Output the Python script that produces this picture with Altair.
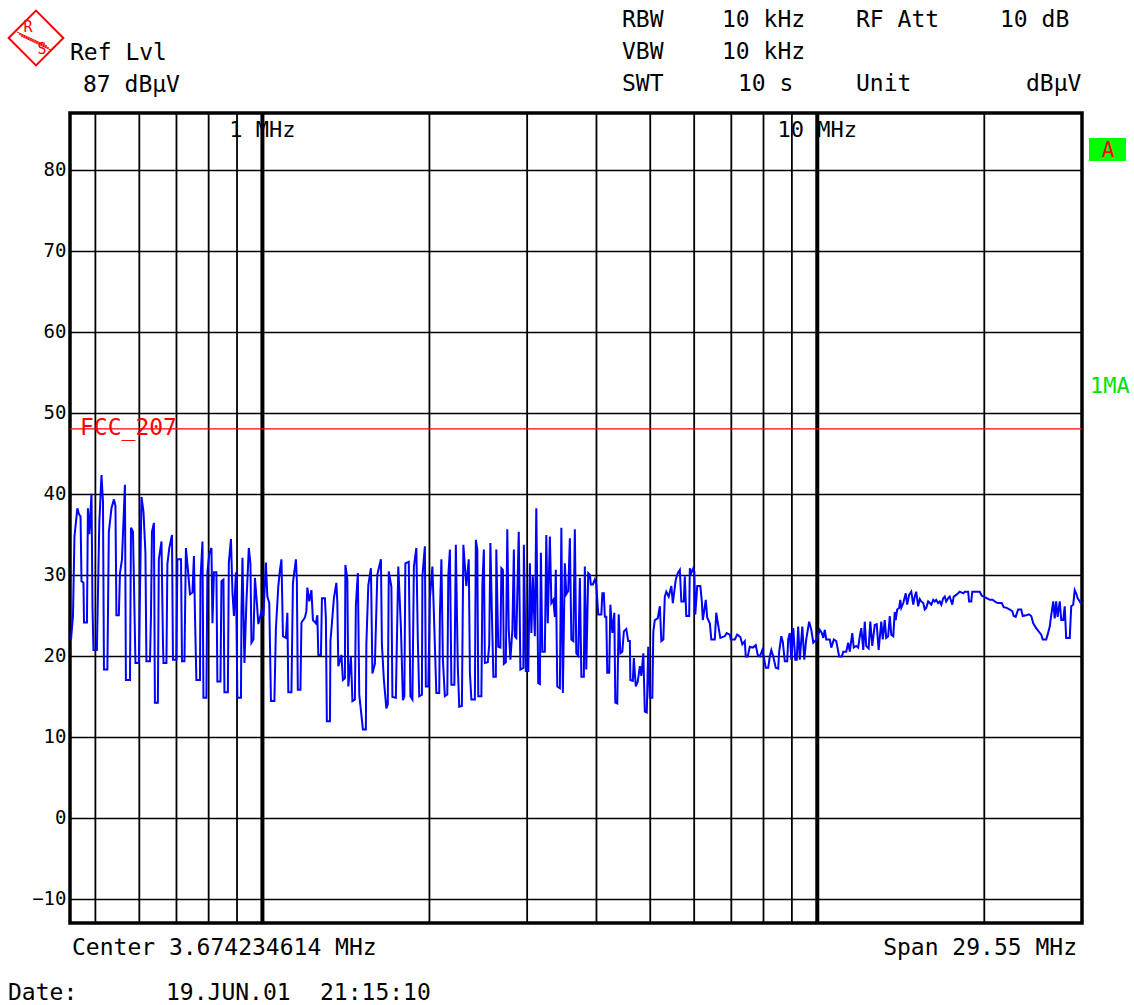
import altair as alt
import pandas as pd

# ---- trace (frequency in MHz, level in dBuV) ----
freq_mhz = [
    0.4519, 0.4556, 0.4584, 0.4640, 0.4669, 0.4701, 0.4720, 0.4759, 0.4769, 0.4828,
    0.4847, 0.4876, 0.4920, 0.4940, 0.4960, 0.5031, 0.5082, 0.5128, 0.5160, 0.5181,
    0.5255, 0.5287, 0.5345, 0.5400, 0.5434, 0.5456, 0.5511, 0.5537, 0.5583, 0.5652,
    0.5675, 0.5772, 0.5796, 0.5844, 0.5868, 0.5904, 0.5988, 0.6054, 0.6104, 0.6154,
    0.6179, 0.6271, 0.6297, 0.6323, 0.6375, 0.6401, 0.6480, 0.6506, 0.6578, 0.6619,
    0.6632, 0.6714, 0.6741, 0.6795, 0.6871, 0.6899, 0.6998, 0.7027, 0.7133, 0.7162,
    0.7236, 0.7251, 0.7280, 0.7339, 0.7403, 0.7480, 0.7526, 0.7557, 0.7603, 0.7717,
    0.7733, 0.7797, 0.7829, 0.7926, 0.7958, 0.8022, 0.8094, 0.8128, 0.8178, 0.8262,
    0.8295, 0.8402, 0.8437, 0.8507, 0.8542, 0.8664, 0.8699, 0.8776, 0.8831, 0.8885,
    0.8958, 0.9013, 0.9148, 0.9167, 0.9205, 0.9281, 0.9356, 0.9451, 0.9516, 0.9555,
    0.9634, 0.9694, 0.9773, 0.9832, 0.9960, 1.0042, 1.0145, 1.0207, 1.0289, 1.0360,
    1.0510, 1.0575, 1.0682, 1.0755, 1.0822, 1.0889, 1.1023, 1.1091, 1.1135, 1.1280,
    1.1350, 1.1490, 1.1536, 1.1583, 1.1709, 1.1758, 1.1928, 1.2001, 1.2050, 1.2147,
    1.2256, 1.2332, 1.2484, 1.2560, 1.2611, 1.2749, 1.2802, 1.2960, 1.3013, 1.3066,
    1.3234, 1.3262, 1.3317, 1.3454, 1.3592, 1.3647, 1.3702, 1.3880, 1.3966, 1.4081,
    1.4110, 1.4224, 1.4282, 1.4439, 1.4529, 1.4678, 1.4738, 1.4858, 1.4947, 1.5175,
    1.5362, 1.5393, 1.5518, 1.5688, 1.5785, 1.5948, 1.6110, 1.6352, 1.6419, 1.6555,
    1.6724, 1.6826, 1.6894, 1.7080, 1.7151, 1.7398, 1.7574, 1.7767, 1.7914, 1.8024,
    1.8098, 1.8355, 1.8481, 1.8635, 1.8750, 1.8942, 1.9057, 1.9172, 1.9384, 1.9424,
    1.9624, 1.9704, 1.9904, 2.0038, 2.0246, 2.0371, 2.0580, 2.0830, 2.0887, 2.1017,
    2.1148, 2.1321, 2.1539, 2.1626, 2.1772, 2.1908, 2.2180, 2.2315, 2.2497, 2.2632,
    2.2883, 2.3024, 2.3308, 2.3544, 2.3656, 2.3804, 2.4148, 2.4246, 2.4394, 2.4493,
    2.4812, 2.4915, 2.5068, 2.5171, 2.5479, 2.5633, 2.5755, 2.5916, 2.6076, 2.6344,
    2.6397, 2.6611, 2.6847, 2.6958, 2.7125, 2.7237, 2.7460, 2.7627, 2.7794, 2.7984,
    2.8216, 2.8391, 2.8507, 2.8681, 2.8972, 2.9170, 2.9533, 2.9593, 2.9836, 3.0138,
    3.0342, 3.0531, 3.0721, 3.0973, 3.1162, 3.1415, 3.1627, 3.1759, 3.1956, 3.2285,
    3.2482, 3.2680, 3.2967, 3.3173, 3.3447, 3.3653, 3.3790, 3.3996, 3.4363, 3.4577,
    3.4792, 3.5078, 3.5292, 3.5578, 3.5819, 3.6043, 3.6341, 3.6564, 3.6788, 3.7086,
    3.7336, 3.7569, 3.7957, 3.8113, 3.8346, 3.8656, 3.8918, 3.9080, 3.9404, 3.9727,
    3.9970, 4.0294, 4.0820, 4.0989, 4.1242, 4.1411, 4.1664, 4.1833, 4.2170, 4.2373,
    4.2725, 4.3077, 4.3253, 4.3604, 4.3868, 4.4168, 4.4534, 4.4809, 4.5268, 4.5635,
    4.5943, 4.6039, 4.6516, 4.6707, 4.7090, 4.7472, 4.7890, 4.8189, 4.8587, 4.8886,
    4.9285, 4.9584, 4.9918, 5.0437, 5.0645, 5.0956, 5.1579, 5.2033, 5.2358, 5.2791,
    5.3115, 5.3440, 5.3981, 5.4575, 5.4914, 5.5591, 5.6042, 5.6534, 5.6887, 5.7475,
    5.7710, 5.8063, 5.8768, 5.8929, 5.9297, 5.9787, 6.0032, 6.0277, 6.0768, 6.1554,
    6.1937, 6.2193, 6.2959, 6.3343, 6.4028, 6.4428, 6.5360, 6.5759, 6.6425, 6.6879,
    6.8128, 6.8683, 6.9567, 6.9846, 7.1014, 7.1738, 7.2665, 7.3268, 7.4022, 7.4324,
    7.4927, 7.5586, 7.6529, 7.7473, 7.8101, 7.8788, 7.9607, 8.0099, 8.0755, 8.1574,
    8.2125, 8.2637, 8.3321, 8.4175, 8.5029, 8.5371, 8.6138, 8.6672, 8.7385, 8.8275,
    8.8631, 8.9230, 8.9787, 9.0529, 9.1272, 9.1829, 9.2386, 9.3010, 9.3977, 9.4751,
    9.5525, 9.6686, 9.7555, 9.8362, 9.9773, 10.106, 10.190, 10.253, 10.316, 10.379,
    10.534, 10.600, 10.709, 10.819, 10.951, 11.071, 11.140, 11.277, 11.368, 11.445,
    11.564, 11.635, 11.754, 11.850, 11.930, 12.004, 12.104, 12.178, 12.253, 12.377,
    12.461, 12.564, 12.694, 12.797, 12.901, 13.043, 13.124, 13.232, 13.313, 13.420,
    13.511, 13.595, 13.708, 13.792, 13.848, 13.933, 14.045, 14.113, 14.172, 14.289,
    14.436, 14.523, 14.641, 14.772, 14.894, 14.985, 15.077, 15.199, 15.302, 15.398,
    15.525, 15.620, 15.716, 15.843, 15.950, 16.050, 16.182, 16.282, 16.381, 16.514,
    16.626, 16.730, 16.868, 16.972, 17.076, 17.214, 17.330, 17.402, 17.510, 17.618,
    17.799, 17.943, 18.064, 18.327, 18.440, 18.703, 18.778, 18.948, 19.026, 19.627,
    19.790, 19.954, 20.199, 20.459, 20.714, 20.885, 21.140, 21.502, 21.680, 21.946,
    22.229, 22.460, 22.599, 22.784, 23.015, 23.315, 23.459, 23.797, 24.086, 24.303,
    24.504, 24.805, 25.056, 25.332, 25.489, 25.856, 26.013, 26.241, 26.405, 26.623,
    26.787, 26.951, 27.114, 27.353, 27.524, 27.751, 27.922, 28.093, 28.512, 28.690,
    28.927, 29.105, 29.283, 29.461, 29.719, 29.900,
]
level_dbuv = [
    22.0, 24.9, 34.7, 38.2, 37.5, 37.2, 29.2, 29.0, 24.1, 24.1,
    38.2, 35.0, 40.0, 26.0, 20.7, 20.7, 36.4, 42.3, 39.0, 18.3,
    18.3, 35.3, 38.2, 39.3, 38.5, 25.0, 25.0, 30.2, 31.9, 41.1,
    17.0, 17.0, 35.8, 35.3, 29.0, 19.1, 19.1, 39.6, 37.8, 32.7,
    19.3, 19.3, 24.9, 35.3, 36.4, 14.2, 14.2, 31.9, 34.1, 21.6,
    19.1, 19.1, 31.3, 33.3, 34.9, 19.5, 19.5, 31.9, 31.9, 19.3,
    19.3, 24.4, 33.3, 30.7, 27.6, 27.8, 32.3, 25.3, 17.0, 17.0,
    29.4, 34.1, 14.8, 14.8, 30.3, 32.6, 33.3, 24.0, 30.3, 30.3,
    16.8, 16.8, 29.2, 29.4, 15.5, 15.5, 31.5, 34.4, 27.8, 24.9,
    30.3, 14.8, 14.8, 25.3, 32.1, 19.1, 26.5, 33.3, 31.3, 21.6,
    22.0, 29.6, 26.5, 23.9, 25.5, 24.9, 31.5, 27.3, 26.5, 14.4,
    14.4, 23.3, 28.6, 30.6, 31.9, 22.4, 22.2, 25.3, 15.5, 15.5,
    29.0, 31.9, 29.4, 15.8, 15.8, 24.1, 24.7, 25.5, 28.4, 26.7,
    28.1, 24.4, 24.0, 25.0, 20.1, 20.1, 27.1, 27.1, 24.6, 11.9,
    11.9, 21.8, 23.3, 27.1, 29.0, 26.5, 18.7, 20.1, 17.0, 17.2,
    31.2, 29.5, 16.2, 19.9, 14.4, 14.6, 26.2, 30.2, 15.2, 10.9,
    10.9, 21.4, 28.7, 30.8, 17.8, 19.0, 30.0, 31.9, 21.4, 17.0,
    13.5, 14.0, 30.4, 28.5, 14.9, 14.8, 31.0, 23.5, 14.5, 15.0,
    31.4, 31.6, 15.0, 14.6, 31.0, 33.3, 22.0, 15.0, 15.2, 29.8,
    33.5, 16.2, 16.2, 27.1, 31.0, 25.3, 15.4, 15.4, 25.1, 31.9,
    19.5, 15.0, 15.2, 29.8, 33.1, 16.4, 16.4, 33.7, 18.7, 13.7,
    13.8, 33.7, 28.6, 31.9, 17.9, 14.6, 14.6, 34.3, 33.1, 15.0,
    15.0, 28.8, 33.1, 19.1, 19.2, 21.4, 33.9, 25.3, 17.4, 17.4,
    33.1, 21.1, 21.0, 30.8, 30.6, 19.0, 19.2, 35.6, 23.2, 19.5,
    23.2, 33.1, 22.4, 22.2, 35.3, 18.3, 18.5, 33.7, 18.1, 18.1,
    31.4, 22.8, 29.8, 22.4, 38.2, 16.6, 16.5, 32.7, 20.5, 20.5,
    34.9, 24.0, 34.7, 26.5, 26.9, 24.8, 30.6, 16.2, 16.0, 35.8,
    15.4, 31.4, 27.6, 28.0, 34.5, 22.0, 21.8, 35.6, 20.3, 20.0,
    29.6, 17.4, 17.4, 31.0, 18.3, 30.2, 30.0, 28.8, 28.8, 29.4,
    28.8, 25.1, 25.1, 27.7, 27.7, 24.8, 24.8, 17.9, 17.9, 26.3,
    22.8, 25.3, 14.2, 14.1, 25.1, 20.3, 20.5, 23.0, 23.3, 21.8,
    21.8, 17.0, 16.9, 19.7, 16.2, 16.8, 18.7, 17.5, 20.3, 13.1,
    13.0, 21.1, 14.8, 14.8, 23.0, 24.4, 24.6, 26.1, 21.8, 22.0,
    27.3, 27.9, 27.3, 28.6, 26.5, 29.4, 30.2, 30.6, 26.7, 26.7,
    29.8, 24.9, 24.9, 30.8, 30.2, 30.8, 30.4, 25.1, 28.6, 28.6,
    26.7, 24.4, 26.9, 24.7, 24.0, 22.0, 22.0, 25.3, 23.4, 22.2,
    22.4, 22.8, 22.6, 22.0, 22.0, 22.6, 22.3, 21.4, 21.8, 19.9,
    19.9, 21.1, 21.0, 21.3, 20.1, 19.9, 20.7, 19.8, 18.5, 18.5,
    19.9, 20.7, 19.9, 18.5, 18.4, 20.5, 22.4, 21.7, 19.3, 19.3,
    22.0, 22.8, 19.5, 23.4, 19.5, 19.5, 23.6, 19.5, 23.6, 19.5,
    22.0, 24.2, 23.2, 21.6, 22.0, 23.2, 22.8, 22.2, 23.2, 22.0,
    22.0, 21.0, 22.0, 21.8, 19.9, 19.9, 20.5, 20.5, 21.6, 20.5,
    22.8, 21.0, 21.2, 21.0, 22.4, 23.4, 20.7, 24.2, 21.2, 20.9,
    24.2, 21.2, 23.8, 23.9, 20.7, 24.2, 22.0, 24.4, 22.2, 22.4,
    24.9, 22.6, 22.4, 25.4, 24.4, 25.7, 25.9, 26.9, 25.9, 26.5,
    27.7, 26.3, 27.5, 27.9, 26.3, 27.3, 27.9, 26.1, 27.0, 26.7,
    26.5, 25.7, 25.9, 26.7, 26.5, 26.3, 26.9, 26.7, 26.9, 26.5,
    26.7, 26.3, 27.1, 27.3, 26.7, 27.1, 27.3, 26.9, 26.3, 27.3,
    27.5, 27.7, 27.9, 27.7, 27.9, 27.9, 26.7, 26.7, 27.9, 27.9,
    27.4, 27.3, 27.1, 26.9, 26.9, 26.7, 26.5, 26.5, 26.0, 25.9,
    25.7, 25.5, 24.9, 24.8, 25.7, 25.7, 24.9, 25.0, 25.1, 24.9,
    24.0, 23.4, 23.0, 22.6, 22.0, 22.0, 22.6, 23.6, 25.0, 26.7,
    24.6, 26.7, 24.8, 26.7, 24.4, 24.4, 26.1, 22.2, 22.2, 26.1,
    26.3, 28.1, 27.7, 27.1, 26.7, 26.4,
]

# ---- grid / scale values ----
grid_minor_mhz = [0.5, 0.6, 0.7, 0.8, 0.9, 2, 3, 4, 5, 6, 7, 8, 9, 20]
grid_major_mhz = [1, 10]
decade_labels = ["1 MHz", "10 MHz"]
y_ticks = [-10, 0, 10, 20, 30, 40, 50, 60, 70, 80]
limit_level = [48]
ref_level = 87
bottom_level = -13
f_start, f_stop = 0.45, 30.0

MONO = "DejaVu Sans Mono"

trace_df = pd.DataFrame({"f": freq_mhz, "lvl": level_dbuv})
xs = alt.Scale(type="log", domain=[f_start, f_stop], nice=False)
ys = alt.Scale(domain=[bottom_level, ref_level], nice=False, zero=False)
y_axis = alt.Axis(values=y_ticks, grid=True, gridColor="black", gridWidth=1.6,
                  gridOpacity=1, ticks=False, domain=False, title=None,
                  labelFont=MONO, labelFontSize=19, labelColor="black",
                  labelPadding=4)

minor = alt.Chart(pd.DataFrame({"f": grid_minor_mhz})).mark_rule(
    color="black", strokeWidth=1.8).encode(
    x=alt.X("f:Q", scale=xs, axis=None))
major = alt.Chart(pd.DataFrame({"f": grid_major_mhz})).mark_rule(
    color="black", strokeWidth=4).encode(
    x=alt.X("f:Q", scale=xs, axis=None))

trace = alt.Chart(trace_df).mark_line(color="#0000ff", strokeWidth=2).encode(
    x=alt.X("f:Q", scale=xs, axis=None),
    y=alt.Y("lvl:Q", scale=ys, axis=y_axis),
)

limit = alt.Chart(pd.DataFrame({"lvl": limit_level})).mark_rule(
    color="#ff0000", strokeWidth=1.2).encode(
    y=alt.Y("lvl:Q", scale=ys, axis=y_axis))

dec_lbl = alt.Chart(pd.DataFrame({"f": grid_major_mhz, "t": decade_labels})).mark_text(
    font=MONO, fontSize=22, color="black", align="center", baseline="alphabetic").encode(
    x=alt.X("f:Q", scale=xs, axis=None), y=alt.value(24), text="t:N")


def label(text, x, y, color="black", size=23, align="left"):
    return alt.Chart(pd.DataFrame({"t": [text]})).mark_text(
        font=MONO, fontSize=size, color=color, align=align, baseline="alphabetic"
    ).encode(x=alt.value(x), y=alt.value(y), text="t:N")


texts = [
    label("Ref Lvl", 0, -53),
    label("87 dBµV", 13, -21),
    label("RBW", 552, -86),
    label("10 kHz", 652, -86),
    label("RF Att", 786, -86),
    label("10 dB", 930, -86),
    label("VBW", 552, -54),
    label("10 kHz", 652, -54),
    label("SWT", 552, -22),
    label("10 s", 668, -22),
    label("Unit", 786, -22),
    label("dBµV", 956, -22),
    label("Center 3.674234614 MHz", 2, 842),
    label("Span 29.55 MHz", 1007, 842, align="right"),
    label("Date:", -62, 887),
    label("19.JUN.01", 96, 887),
    label("21:15:10", 250, 887),
    label("FCC_207", 10, 322, color="#ff0000", size=23),
    label("1MA", 1020, 280, color="#00e000", size=22),
]

a_box = alt.Chart(pd.DataFrame({"t": ["A"]})).mark_rect(color="#00ff00").encode(
    x=alt.value(1019), x2=alt.value(1056), y=alt.value(25), y2=alt.value(48))
a_txt = label("A", 1038, 44, color="#ff0000", size=21, align="center")

logo = alt.Chart(pd.DataFrame({"t": ["RS"]})).mark_point(
    shape="diamond", size=3000, filled=False, color="#ff0000", strokeWidth=2,
    opacity=1).encode(x=alt.value(-34), y=alt.value(-75))
logo_lines = [
    alt.Chart(pd.DataFrame({"t": ["l"]})).mark_rule(color="#ff0000", strokeWidth=1).encode(
        x=alt.value(-52 + d), y=alt.value(-80 + d), x2=alt.value(-22 + d), y2=alt.value(-66 + d))
    for d in (-1, 1, 3)
]
logo_r = label("R", -42, -81, color="#ff0000", size=15, align="center")
logo_s = label("S", -28, -59, color="#ff0000", size=15, align="center")

chart = alt.layer(
    minor, major, limit, trace, dec_lbl, a_box, a_txt, logo, *logo_lines,
    logo_r, logo_s, *texts
).properties(
    width=1012, height=810,
    padding={"left": 70, "top": 113, "right": 52, "bottom": 82},
    autosize="none", background="white",
).configure_view(stroke="black", strokeWidth=3.5)

chart.save("out.html", embed_options={"renderer": "svg", "actions": False})
